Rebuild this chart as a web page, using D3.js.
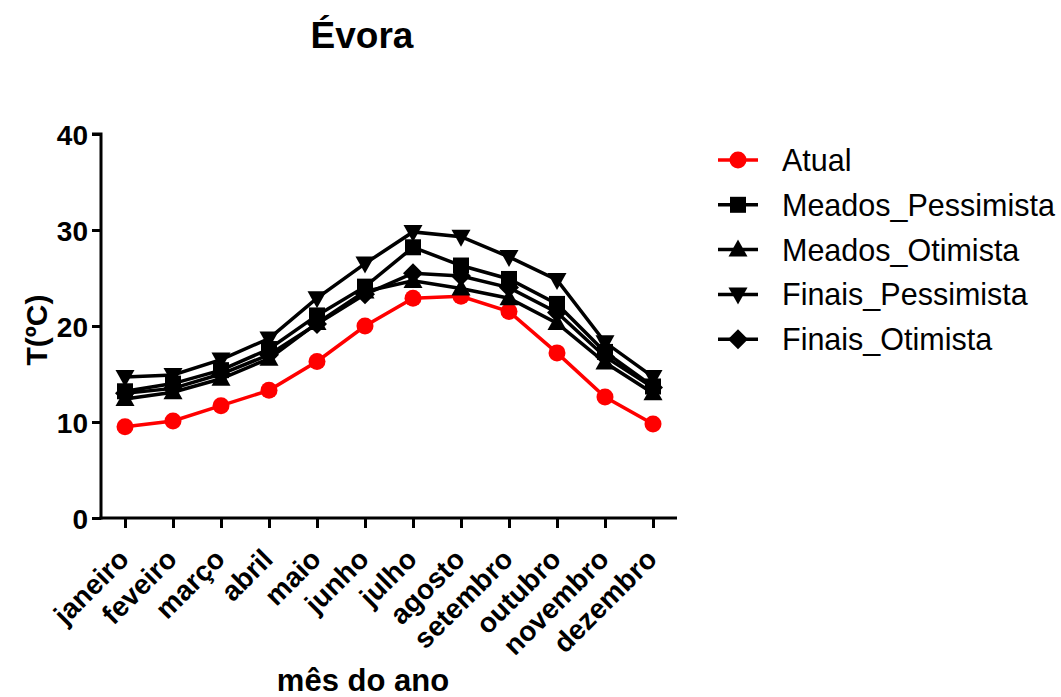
<!DOCTYPE html>
<html><head><meta charset="utf-8">
<script src="https://cdn.jsdelivr.net/npm/d3@7"></script>
<style>body{margin:0;background:#fff}svg{display:block}text{font-family:"Liberation Sans",Arial,sans-serif}</style>
</head><body><svg id="c" width="1061" height="697"></svg>
<script>
const months = ["janeiro","feveiro","março","abril","maio","junho","julho","agosto","setembro","outubro","novembro","dezembro"];
const atual = [9.5,10.1,11.7,13.3,16.3,20.0,22.9,23.1,21.5,17.2,12.6,9.8];
const meadosPessimista = [13.2,14.0,15.4,17.6,21.1,24.1,28.2,26.3,24.9,22.3,17.3,13.7];
const meadosOtimista = [12.4,13.1,14.5,16.6,20.3,23.6,24.7,23.9,22.9,20.3,16.2,13.0];
const finaisPessimista = [14.7,14.9,16.5,18.7,22.9,26.5,29.8,29.3,27.2,24.8,18.3,14.7];
const finaisOtimista = [13.0,13.5,15.0,17.0,20.2,23.3,25.5,25.2,24.0,21.4,16.8,13.6];
const yTicks = [0,10,20,30,40];

const series = [
  {name:"Atual", values:atual, color:"#ff0000", sym:"circle"},
  {name:"Meados_Pessimista", values:meadosPessimista, color:"#000", sym:"square"},
  {name:"Meados_Otimista", values:meadosOtimista, color:"#000", sym:"up"},
  {name:"Finais_Pessimista", values:finaisPessimista, color:"#000", sym:"down"},
  {name:"Finais_Otimista", values:finaisOtimista, color:"#000", sym:"diamond"}
];

const svg = d3.select("#c");
const L = 101, R = 677, T = 134, B = 518;
const x = d3.scalePoint().domain(months).range([L, R]).padding(0.5);
const y = d3.scaleLinear().domain([0,40]).range([B, T]);

function marker(g, sym, color) {
  if (sym === "circle") return g.append("circle").attr("r", 8.5).attr("fill", color);
  if (sym === "square") return g.append("rect").attr("x",-8).attr("y",-8).attr("width",16).attr("height",16).attr("fill", color);
  if (sym === "up") return g.append("path").attr("d","M0,-10 L9.5,7 L-9.5,7Z").attr("fill", color);
  if (sym === "down") return g.append("path").attr("d","M0,10 L9.5,-7 L-9.5,-7Z").attr("fill", color);
  if (sym === "diamond") return g.append("path").attr("d","M0,-10 L10,0 L0,10 L-10,0Z").attr("fill", color);
}

// axes
const yAxis = svg.append("g").attr("transform",`translate(${L},0)`)
  .call(d3.axisLeft(y).tickValues(yTicks).tickSize(9).tickPadding(4));
const xAxis = svg.append("g").attr("transform",`translate(0,${B})`)
  .call(d3.axisBottom(x).tickSize(10).tickPadding(6));
[yAxis, xAxis].forEach(a => {
  a.select(".domain").attr("stroke","#000").attr("stroke-width",3);
  a.selectAll(".tick line").attr("stroke","#000").attr("stroke-width",3);
});
yAxis.select(".domain").attr("d", `M-9,${T}H0V${B+1.5}`);
xAxis.select(".domain").attr("d", `M${L-1.5},0H${R}`);
yAxis.selectAll(".tick text").attr("font-size",28).attr("font-weight","bold").attr("fill","#000").attr("dy","0.36em");
xAxis.selectAll(".tick text").attr("font-size",28).attr("font-weight","bold").attr("fill","#000")
  .attr("text-anchor","end").attr("x",0).attr("y",0).attr("dy",0)
  .attr("transform","translate(5,43) rotate(-45)");

// lines and markers
series.forEach(s => {
  const line = d3.line().x((d,i)=>x(months[i])).y(d=>y(d));
  svg.append("path").datum(s.values).attr("d", line).attr("fill","none")
    .attr("stroke", s.color).attr("stroke-width",3.5);
});
series.forEach(s => {
  s.values.forEach((v,i) => {
    const g = svg.append("g").attr("transform",`translate(${x(months[i])},${y(v)})`);
    marker(g, s.sym, s.color);
  });
});

// legend
series.forEach((s,i) => {
  const cy = 160 + i*44.8;
  const g = svg.append("g").attr("transform",`translate(738,${cy})`);
  g.append("line").attr("x1",-20).attr("x2",20).attr("stroke",s.color).attr("stroke-width",3.5);
  marker(g, s.sym, s.color);
  svg.append("text").attr("x",782).attr("y",cy+11).attr("font-size",30.5).attr("fill","#000").text(s.name);
});

// titles
svg.append("text").attr("x",362).attr("y",48).attr("text-anchor","middle").attr("font-size",37).attr("font-weight","bold").text("Évora");
svg.append("text").attr("transform","translate(47,330) rotate(-90)").attr("text-anchor","middle").attr("font-size",30).attr("font-weight","bold").text("T(ºC)");
svg.append("text").attr("x",363).attr("y",691).attr("text-anchor","middle").attr("font-size",31).attr("font-weight","bold").text("mês do ano");
</script></body></html>
